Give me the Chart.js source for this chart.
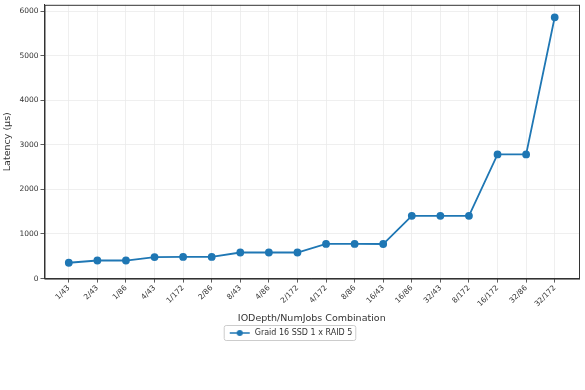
<!DOCTYPE html>
<html>
<head>
<meta charset="utf-8">
<script src="https://cdn.jsdelivr.net/npm/chart.js@4/dist/chart.umd.min.js"></script>
<style>
  html, body { margin: 0; padding: 0; background: #fff; }
  #wrap { width: 585px; height: 390px; }
</style>
</head>
<body>
<div id="wrap"><canvas id="latencyChart"></canvas></div>
<script>
const combos = ['1/43', '2/43', '1/86', '4/43', '1/172', '2/86', '8/43', '4/86', '2/172',
                '4/172', '8/86', '16/43', '16/86', '32/43', '8/172', '16/172', '32/86', '32/172'];
const latency = [355, 405, 405, 482, 485, 485, 585, 585, 585,
                 778, 778, 775, 1407, 1407, 1407, 2785, 2785, 5860];
const yTicks = [0, 1000, 2000, 3000, 4000, 5000, 6000];
const seriesName = 'Graid 16 SSD 1 x RAID 5';

const blue = '#1f77b4';

// legend marker: line with a dot, matplotlib style
function legendMarker() {
    const c = document.createElement('canvas');
    c.width = 22; c.height = 10;
    const g = c.getContext('2d');
    g.strokeStyle = blue; g.lineWidth = 1.5;
    g.beginPath(); g.moveTo(1, 5); g.lineTo(21, 5); g.stroke();
    g.fillStyle = blue;
    g.beginPath(); g.arc(11, 5, 3, 0, Math.PI * 2); g.fill();
    return c;
}
const marker = legendMarker();

const frame = {
    id: 'frame',
    afterDraw(chart) {
        const { ctx, chartArea: a } = chart;
        ctx.save();
        ctx.strokeStyle = '#333';
        ctx.lineWidth = 1;
        ctx.strokeRect(a.left + 0.5, a.top + 0.5, a.right - a.left, a.bottom - a.top);
        const box = chart.legend.legendHitBoxes[0];
        if (box) {
            ctx.strokeStyle = '#cccccc';
            ctx.beginPath();
            ctx.roundRect(box.left - 4.5, box.top - 3.5, box.width + 8, box.height + 7, 2);
            ctx.stroke();
        }
        ctx.restore();
    }
};

const ctx = document.getElementById('latencyChart').getContext('2d');
new Chart(ctx, {
    type: 'line',
    data: {
        datasets: [{
            label: seriesName,
            data: latency.map((v, i) => ({ x: i, y: v })),
            borderColor: blue,
            backgroundColor: blue,
            borderWidth: 1.8,
            pointRadius: 3,
            pointHoverRadius: 3
        }]
    },
    options: {
        responsive: true,
        maintainAspectRatio: false,
        animation: false,
        layout: { padding: { top: 1, right: 6, bottom: 43, left: 2 } },
        plugins: {
            legend: {
                position: 'bottom',
                labels: {
                    usePointStyle: true,
                    pointStyleWidth: 22,
                    color: '#333',
                    font: { family: 'DejaVu Sans', size: 8 },
                    padding: 4,
                    generateLabels: chart => chart.data.datasets.map((ds, i) => ({
                        text: ds.label,
                        datasetIndex: i,
                        pointStyle: marker,
                        fontColor: '#333',
                        lineWidth: 0
                    }))
                }
            },
            tooltip: { enabled: false }
        },
        scales: {
            x: {
                type: 'linear',
                min: -0.85,
                max: combos.length - 1 + 0.85,
                afterBuildTicks: s => { s.ticks = combos.map((_, i) => ({ value: i })); },
                ticks: {
                    callback: v => combos[v],
                    autoSkip: false,
                    minRotation: 45,
                    maxRotation: 45,
                    color: '#333',
                    font: { family: 'DejaVu Sans', size: 7.5 },
                    padding: 1
                },
                grid: { color: '#ebebeb', lineWidth: 0.8, tickColor: '#333', tickLength: 4 },
                border: { color: '#333' },
                title: {
                    display: true,
                    text: 'IODepth/NumJobs Combination',
                    color: '#333',
                    font: { family: 'DejaVu Sans', size: 9.5 },
                    padding: { top: 3, bottom: 1 }
                }
            },
            y: {
                min: 0,
                max: 6140,
                afterBuildTicks: s => { s.ticks = yTicks.map(v => ({ value: v })); },
                afterFit: s => { s.paddingTop = 0; },
                ticks: {
                    callback: v => String(v),
                    color: '#333',
                    font: { family: 'DejaVu Sans', size: 7.5 },
                    padding: 2
                },
                grid: { color: '#ebebeb', lineWidth: 0.8, tickColor: '#333', tickLength: 4 },
                border: { color: '#333' },
                title: {
                    display: true,
                    text: 'Latency (µs)',
                    color: '#333',
                    font: { family: 'DejaVu Sans', size: 9.5 },
                    padding: { top: 0, bottom: 4 }
                }
            }
        }
    },
    plugins: [frame]
});
</script>
</body>
</html>
